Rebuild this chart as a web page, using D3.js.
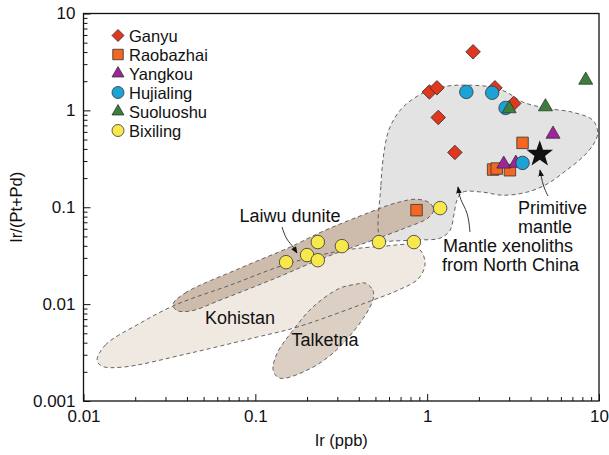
<!DOCTYPE html>
<html>
<head>
<meta charset="utf-8">
<script src="https://cdn.jsdelivr.net/npm/d3@7"></script>
<style>
  body { margin: 0; background: #fff; }
  svg { display: block; font-family: "Liberation Sans", Arial, sans-serif; }
</style>
</head>
<body>
<svg id="chart"></svg>
<script>
// sample points, [Ir (ppb), Ir/(Pt+Pd)]
const ganyu = [[1.85, 4.02], [1.03, 1.55], [1.14, 1.71], [2.48, 1.71], [3.19, 1.18], [1.16, 0.845], [1.45, 0.368]];
const raobazhai = [[3.59, 0.462], [2.42, 0.245], [2.54, 0.251], [3.03, 0.241], [0.867, 0.0933]];
const yangkou = [[5.40, 0.568], [2.79, 0.279], [3.28, 0.285]];
const hujialing = [[1.69, 1.55], [2.39, 1.52], [2.86, 1.06], [3.59, 0.287]];
const suoluoshu = [[8.37, 2.05], [4.88, 1.09], [3.00, 1.04]];
const bixiling = [[0.151, 0.0271], [0.200, 0.0321], [0.231, 0.0437], [0.231, 0.0284], [0.319, 0.0397], [0.524, 0.0437], [0.837, 0.0437], [1.19, 0.098]];
const primitiveMantle = [[4.52, 0.353]];

// outlines of the reference fields
const xenolithField = [[0.538, 0.046], [0.538, 0.169], [0.567, 0.42], [0.607, 0.67], [0.723, 1.08], [0.995, 1.58], [1.30, 1.78], [1.77, 1.82], [2.41, 1.73], [2.90, 1.54], [3.60, 1.22], [4.97, 1.05], [7.03, 0.957], [9.19, 0.792], [9.83, 0.596], [9.44, 0.47], [8.26, 0.345], [6.49, 0.242], [4.97, 0.173], [3.80, 0.143], [2.75, 0.133], [2.11, 0.143], [1.61, 0.143], [1.49, 0.118], [1.43, 0.083], [1.36, 0.058], [1.19, 0.048], [0.847, 0.046], [0.649, 0.045]];
const laiwuField = [[0.0332, 0.0100], [0.039, 0.0130], [0.0815, 0.0235], [0.159, 0.0387], [0.248, 0.0566], [0.465, 0.089], [0.649, 0.110], [0.871, 0.121], [1.04, 0.110], [1.09, 0.0933], [1.01, 0.0773], [0.741, 0.0608], [0.465, 0.0447], [0.248, 0.0298], [0.127, 0.0181], [0.0649, 0.0113], [0.0417, 0.00847], [0.0346, 0.00867]];
const kohistanField = [[0.0120, 0.00264], [0.0134, 0.00378], [0.0214, 0.00637], [0.0341, 0.00977], [0.0713, 0.0157], [0.159, 0.0265], [0.333, 0.0361], [0.567, 0.0397], [0.815, 0.0407], [0.931, 0.0344], [0.971, 0.0252], [0.883, 0.0181], [0.676, 0.0139], [0.483, 0.0110], [0.175, 0.00579], [0.102, 0.00456], [0.0417, 0.00312], [0.0170, 0.00224], [0.0128, 0.00229]];
const talketnaField = [[0.435, 0.0165], [0.483, 0.0139], [0.483, 0.0110], [0.406, 0.00637], [0.283, 0.00312], [0.200, 0.00208], [0.139, 0.00172], [0.127, 0.00208], [0.134, 0.00312], [0.166, 0.00540], [0.216, 0.00931], [0.310, 0.0146], [0.390, 0.0161]];

// axis ticks
const xMajor = [0.01, 0.1, 1, 10];
const xLabels = ["0.01", "0.1", "1", "10"];
const yMajor = [0.001, 0.01, 0.1, 1, 10];
const yLabels = ["0.001", "0.01", "0.1", "1", "10"];

var width = 609, height = 455;
var margin = {top: 13.5, right: 10, bottom: 54, left: 83.5};

var svg = d3.select("#chart")
    .attr("width", width)
    .attr("height", height);

var x = d3.scaleLog().domain([0.01, 10]).range([margin.left, width - margin.right]);
var y = d3.scaleLog().domain([0.001, 10]).range([height - margin.bottom, margin.top]);

// minor ticks 2..9 in every decade
function minors(lo, hi) {
    var out = [];
    for (var e = lo; e < hi; e++) {
        for (var k = 2; k <= 9; k++) out.push(k * Math.pow(10, e));
    }
    return out;
}

var field = d3.line()
    .x(function(d) { return x(d[0]); })
    .y(function(d) { return y(d[1]); })
    .curve(d3.curveCatmullRomClosed.alpha(0.5));

var fields = [
    {pts: kohistanField, fill: "#f0e9e2"},
    {pts: talketnaField, fill: "#dcd0c4"},
    {pts: xenolithField, fill: "#e3e3e3"},
    {pts: laiwuField, fill: "#cdbcac"}
];

svg.selectAll("path.fill")
    .data(fields)
    .enter().append("path")
    .attr("class", "fill")
    .attr("d", function(d) { return field(d.pts); })
    .attr("fill", function(d) { return d.fill; });

svg.selectAll("path.outline")
    .data(fields)
    .enter().append("path")
    .attr("class", "outline")
    .attr("d", function(d) { return field(d.pts); })
    .attr("fill", "none")
    .attr("stroke", "#555")
    .attr("stroke-width", 0.9)
    .attr("stroke-dasharray", "4,3");

// field labels
var labels = [
    {t: "Kohistan", x: 240, y: 324, a: "middle"},
    {t: "Talketna", x: 325, y: 346, a: "middle"},
    {t: "Laiwu dunite", x: 290, y: 222, a: "middle"},
    {t: "Mantle xenoliths", x: 443, y: 252, a: "start"},
    {t: "from North China", x: 442, y: 271, a: "start"},
    {t: "Primitive", x: 518, y: 214, a: "start"},
    {t: "mantle", x: 518, y: 233, a: "start"}
];
svg.selectAll("text.lab")
    .data(labels)
    .enter().append("text")
    .attr("class", "lab")
    .attr("x", function(d) { return d.x; })
    .attr("y", function(d) { return d.y; })
    .attr("text-anchor", function(d) { return d.a; })
    .style("font-size", "18px")
    .attr("fill", "#111")
    .text(function(d) { return d.t; });

// arrows
svg.append("defs").append("marker")
    .attr("id", "head")
    .attr("viewBox", "0 0 10 10")
    .attr("refX", 9).attr("refY", 5)
    .attr("markerWidth", 7).attr("markerHeight", 7)
    .attr("markerUnits", "userSpaceOnUse")
    .attr("orient", "auto")
    .append("path")
    .attr("d", "M0,1 L10,5 L0,9 Z")
    .attr("fill", "#111");

var arrows = [
    [[282, 227], [286, 239], [292, 245], [297, 253]],
    [[470, 232], [468, 212], [460, 200], [458, 187]],
    [[548, 196], [543, 186], [540, 170]]
];
svg.selectAll("path.arrow")
    .data(arrows)
    .enter().append("path")
    .attr("class", "arrow")
    .attr("d", d3.line().curve(d3.curveBasis))
    .attr("fill", "none")
    .attr("stroke", "#222")
    .attr("stroke-width", 0.9)
    .attr("marker-end", "url(#head)");

// symbols
function starPath(R, r) {
    var p = [];
    for (var i = 0; i < 10; i++) {
        var ang = -Math.PI / 2 + i * Math.PI / 5;
        var rad = i % 2 === 0 ? R : r;
        p.push([rad * Math.cos(ang), rad * Math.sin(ang)]);
    }
    return "M" + p.join("L") + "Z";
}

function symbolPath(kind, s) {
    if (kind === "diamond") return d3.symbol(d3.symbolSquare, s * s / 2)();
    if (kind === "square") return d3.symbol(d3.symbolSquare, s * s)();
    if (kind === "triangle") return d3.symbol(d3.symbolTriangle, Math.sqrt(3) / 4 * s * s)();
    if (kind === "circle") return d3.symbol(d3.symbolCircle, Math.PI * s * s / 4)();
    return starPath(s / 2, s / 5);
}

var series = [
    {name: "Ganyu", data: ganyu, kind: "diamond", color: "#e2371f", size: 14.5},
    {name: "Raobazhai", data: raobazhai, kind: "square", color: "#f26722", size: 11.5},
    {name: "Yangkou", data: yangkou, kind: "triangle", color: "#a0239b", size: 14},
    {name: "Hujialing", data: hujialing, kind: "circle", color: "#1ba3d6", size: 13.5},
    {name: "Suoluoshu", data: suoluoshu, kind: "triangle", color: "#3c7f3b", size: 14},
    {name: "Bixiling", data: bixiling, kind: "circle", color: "#f7e84c", size: 13.5}
];

series.forEach(function(s) {
    svg.append("g").selectAll("path")
        .data(s.data)
        .enter().append("path")
        .attr("d", symbolPath(s.kind, s.size))
        .attr("transform", function(d) {
            return "translate(" + x(d[0]) + "," + y(d[1]) + ")" + (s.kind === "diamond" ? " rotate(45)" : "");
        })
        .attr("fill", s.color)
        .attr("stroke", "#333")
        .attr("stroke-width", 0.8);
});

svg.append("g").selectAll("path")
    .data(primitiveMantle)
    .enter().append("path")
    .attr("d", starPath(14, 5.6))
    .attr("transform", function(d) { return "translate(" + x(d[0]) + "," + y(d[1]) + ")"; })
    .attr("fill", "#111");

// legend
var legend = svg.append("g")
    .selectAll("g")
    .data(series)
    .enter().append("g")
    .attr("transform", function(d, i) { return "translate(118," + (35.5 + i * 19) + ")"; });

legend.append("path")
    .attr("d", function(d) { return symbolPath(d.kind, d.kind === "square" ? 10.5 : 12); })
    .attr("transform", function(d) { return d.kind === "diamond" ? "rotate(45)" : ""; })
    .attr("fill", function(d) { return d.color; })
    .attr("stroke", "#333")
    .attr("stroke-width", 0.8);

legend.append("text")
    .attr("x", 11)
    .attr("y", 6)
    .style("font-size", "16.5px")
    .attr("fill", "#111")
    .text(function(d) { return d.name; });

// axes, ticks on the inside
var xAxisY = height - margin.bottom;
svg.append("g")
    .attr("transform", "translate(0," + xAxisY + ")")
    .call(d3.axisBottom(x).tickValues(minors(-2, 1)).tickSize(-4).tickFormat(""))
    .call(function(g) { g.select(".domain").remove(); });
svg.append("g")
    .attr("transform", "translate(0," + xAxisY + ")")
    .call(d3.axisBottom(x).tickValues(xMajor).tickSize(-7).tickPadding(9)
        .tickFormat(function(d, i) { return xLabels[i]; }))
    .call(function(g) { g.select(".domain").remove(); });

svg.append("g")
    .attr("transform", "translate(" + margin.left + ",0)")
    .call(d3.axisLeft(y).tickValues(minors(-3, 1)).tickSize(-4).tickFormat(""))
    .call(function(g) { g.select(".domain").remove(); });
svg.append("g")
    .attr("transform", "translate(" + margin.left + ",0)")
    .call(d3.axisLeft(y).tickValues(yMajor).tickSize(-7).tickPadding(8)
        .tickFormat(function(d, i) { return yLabels[i]; }))
    .call(function(g) { g.select(".domain").remove(); });

svg.selectAll(".tick line").attr("stroke", "#111").attr("stroke-width", 1);
svg.selectAll(".tick text")
    .style("font-size", "17px")
    .style("font-family", "'Liberation Sans', Arial, sans-serif")
    .attr("fill", "#111");

// frame
svg.append("rect")
    .attr("x", margin.left)
    .attr("y", margin.top)
    .attr("width", width - margin.right - margin.left)
    .attr("height", height - margin.bottom - margin.top)
    .attr("fill", "none")
    .attr("stroke", "#111")
    .attr("stroke-width", 1.3);

// axis titles
svg.append("text")
    .attr("x", (margin.left + width - margin.right) / 2)
    .attr("y", 446)
    .attr("text-anchor", "middle")
    .style("font-size", "16.5px")
    .attr("fill", "#111")
    .text("Ir (ppb)");

svg.append("text")
    .attr("transform", "translate(22," + (margin.top + xAxisY) / 2 + ") rotate(-90)")
    .attr("text-anchor", "middle")
    .style("font-size", "16.5px")
    .attr("fill", "#111")
    .text("Ir/(Pt+Pd)");
</script>
</body>
</html>
